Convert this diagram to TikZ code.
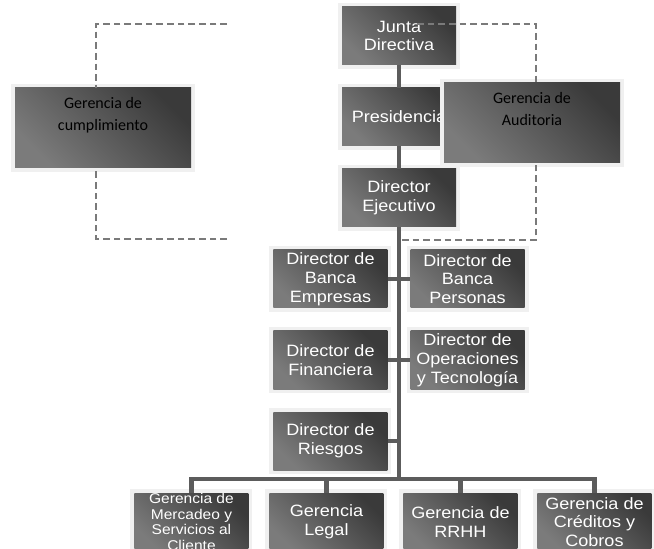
\documentclass[tikz,border=0pt]{standalone}
\usepackage{fontspec}
\usepackage{tikz}
\usetikzlibrary{calc,positioning}
\newfontfamily\boxfont[FakeStretch=1.1]{Liberation Sans}
\newfontfamily\gerfont{Carlito}
\definecolor{boxdark}{HTML}{3A3A3A}
\definecolor{boxlight}{HTML}{7B7B7B}
\definecolor{linkgray}{HTML}{5C5C5C}
\definecolor{dashgray}{HTML}{7A7A7A}
\tikzset{
	box/.style={rectangle, minimum width=85.5pt, minimum height=43.5pt,
		inner sep=0pt, align=center, text=white,
		font={\boxfont\fontsize{12.3}{14.1}\selectfont},
		preaction={draw=black!6, line width=6pt},
		top color=boxdark, bottom color=boxlight, shading angle=-45},
	gerencia/.style={box, minimum width=132pt, minimum height=60pt, text=black,
		font={\gerfont\fontsize{12}{17}\selectfont}},
	link/.style={draw=linkgray, line width=3.2pt},
	apoyo/.style={draw=dashgray, line width=1.5pt, dash pattern=on 5pt off 3pt}
}

\begin{document}
\begin{tikzpicture}[
	x=0.75pt,
	y=-0.75pt,
	node distance=60.75pt
  ]
  \useasboundingbox (0,0) rectangle (654,549);
  \clip (0,0) rectangle (654,549);

  \node[box] (1) at (399,36)		{Junta\\Directiva};
  \node[box] (2) [below of=1]		{Presidencia};
  \node[box] (3) [below of=2]		{Director\\Ejecutivo};
  \node[box] (4) [below of=3, xshift=-51.4pt]	{Director de\\Banca\\Empresas};
  \node[box] (5) [below of=3, xshift=51.4pt]	{Director de\\Banca\\Personas};
  \node[box] (6) [below of=4]		{Director de\\Financiera};
  \node[box] (7) [below of=5]		{Director de\\Operaciones\\y Tecnología};
  \node[box] (8) [below of=6]		{Director de\\Riesgos};

  \node[box] (11) [below of=8, xshift=-3pt]		{Gerencia\\Legal};
  \node[box] (10) [left of=11, node distance=101.25pt,
  		font={\boxfont\fontsize{10.6}{11.8}\selectfont}]	{Gerencia de\\Mercadeo y\\Servicios al\\Cliente};
  \node[box] (12) [right of=11, node distance=100.5pt]	{Gerencia de\\RRHH};
  \node[box] (13) [right of=12, node distance=100.5pt]	{Gerencia de\\Créditos y\\Cobros};

  \node[gerencia] (9) at (532,123)	{Gerencia de\\Auditoria\\[4pt]};
  \node[gerencia] (14) at (103,128)	{Gerencia de\\cumplimiento\\[4pt]};

  \coordinate (bus) at (399,479);
  \coordinate (a1) at (417,24);
  \coordinate (a2) at (402,240);
  \coordinate (c1) at (227,24);
  \coordinate (c2) at (227,239);

  \path[link] (1) edge (2)
  		(2) edge (3)
  		(3) edge (bus)
  		(4) edge (5)
  		(6) edge (7)
  		(8.east) edge (8.east -| bus);
  \draw[link] (10.north) |- (bus) -| (13.north);
  \draw[link] (11.north) -- (11.north |- bus);
  \draw[link] (12.north) -- (12.north |- bus);

  \draw[apoyo] (a1) -| ([xshift=3pt]9.north);
  \draw[apoyo] (a2) -| ([xshift=3pt]9.south);
  \draw[apoyo] (c1) -| ([xshift=-5.25pt]14.north);
  \draw[apoyo] (c2) -| ([xshift=-5.25pt]14.south);

\end{tikzpicture}
\end{document}
